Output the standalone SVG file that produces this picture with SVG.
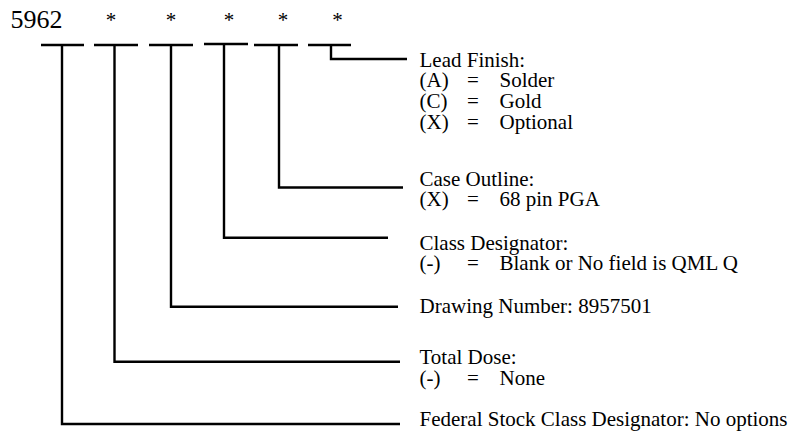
<svg xmlns="http://www.w3.org/2000/svg" width="794" height="436" viewBox="0 0 794 436">
  <style>
    text { font-family: "Liberation Serif", "Times New Roman", serif; fill: #000; }
    .lbl { font-size: 21px; }
    .big { font-size: 26px; }
    .ast { font-size: 21px; text-anchor: middle; }
    .ln { fill: none; stroke: #000; stroke-width: 2.4; stroke-linejoin: miter; stroke-linecap: butt; }
  </style>
  <rect width="794" height="436" fill="#fff"/>

  <g id="prefix">
    <text class="big" x="10.5" y="28">5962</text>
  </g>
  <g id="field1">
    <line class="ln" x1="41" y1="45" x2="84" y2="45"/>
  </g>
  <g id="field2">
    <text class="ast" x="111" y="27">*</text>
    <line class="ln" x1="94" y1="45" x2="138" y2="45"/>
  </g>
  <g id="field3">
    <text class="ast" x="171" y="27">*</text>
    <line class="ln" x1="149" y1="45" x2="193" y2="45"/>
  </g>
  <g id="field4">
    <text class="ast" x="229" y="27">*</text>
    <line class="ln" x1="204" y1="44" x2="248" y2="44"/>
  </g>
  <g id="field5">
    <text class="ast" x="283" y="27">*</text>
    <line class="ln" x1="254" y1="45" x2="298" y2="45"/>
  </g>
  <g id="field6">
    <text class="ast" x="337.5" y="27">*</text>
    <line class="ln" x1="308" y1="45" x2="351" y2="45"/>
  </g>

  <g id="connectors">
    <path class="ln" d="M331,45 V59 H407"/>
    <path class="ln" d="M279,45 V187.5 H403"/>
    <path class="ln" d="M224,44 V237.7 H388"/>
    <path class="ln" d="M171,45 V306.7 H398"/>
    <path class="ln" d="M114.5,45 V361.7 H400"/>
    <path class="ln" d="M62,45 V424 H400"/>
  </g>

  <g id="lead-finish" class="lbl">
    <text x="419.5" y="66.5">Lead Finish:</text>
    <text x="419.5" y="87.3">(A)</text><text x="467" y="87.3">=</text><text x="499.5" y="87.3">Solder</text>
    <text x="419.5" y="108.1">(C)</text><text x="467" y="108.1">=</text><text x="499.5" y="108.1">Gold</text>
    <text x="419.5" y="128.9">(X)</text><text x="467" y="128.9">=</text><text x="499.5" y="128.9">Optional</text>
  </g>
  <g id="case-outline" class="lbl">
    <text x="419.5" y="185.5">Case Outline:</text>
    <text x="419.5" y="206">(X)</text><text x="467" y="206">=</text><text x="499.5" y="206">68 pin PGA</text>
  </g>
  <g id="class-designator" class="lbl">
    <text x="419.5" y="249.5">Class Designator:</text>
    <text x="419.5" y="270">(-)</text><text x="467" y="270">=</text><text x="499.5" y="270">Blank or No field is QML Q</text>
  </g>
  <g id="drawing-number" class="lbl">
    <text x="419.5" y="313">Drawing Number: 8957501</text>
  </g>
  <g id="total-dose" class="lbl">
    <text x="419.5" y="364">Total Dose:</text>
    <text x="419.5" y="384.5">(-)</text><text x="467" y="384.5">=</text><text x="499.5" y="384.5">None</text>
  </g>
  <g id="federal-stock" class="lbl">
    <text x="419.5" y="426">Federal Stock Class Designator: No options</text>
  </g>
</svg>
